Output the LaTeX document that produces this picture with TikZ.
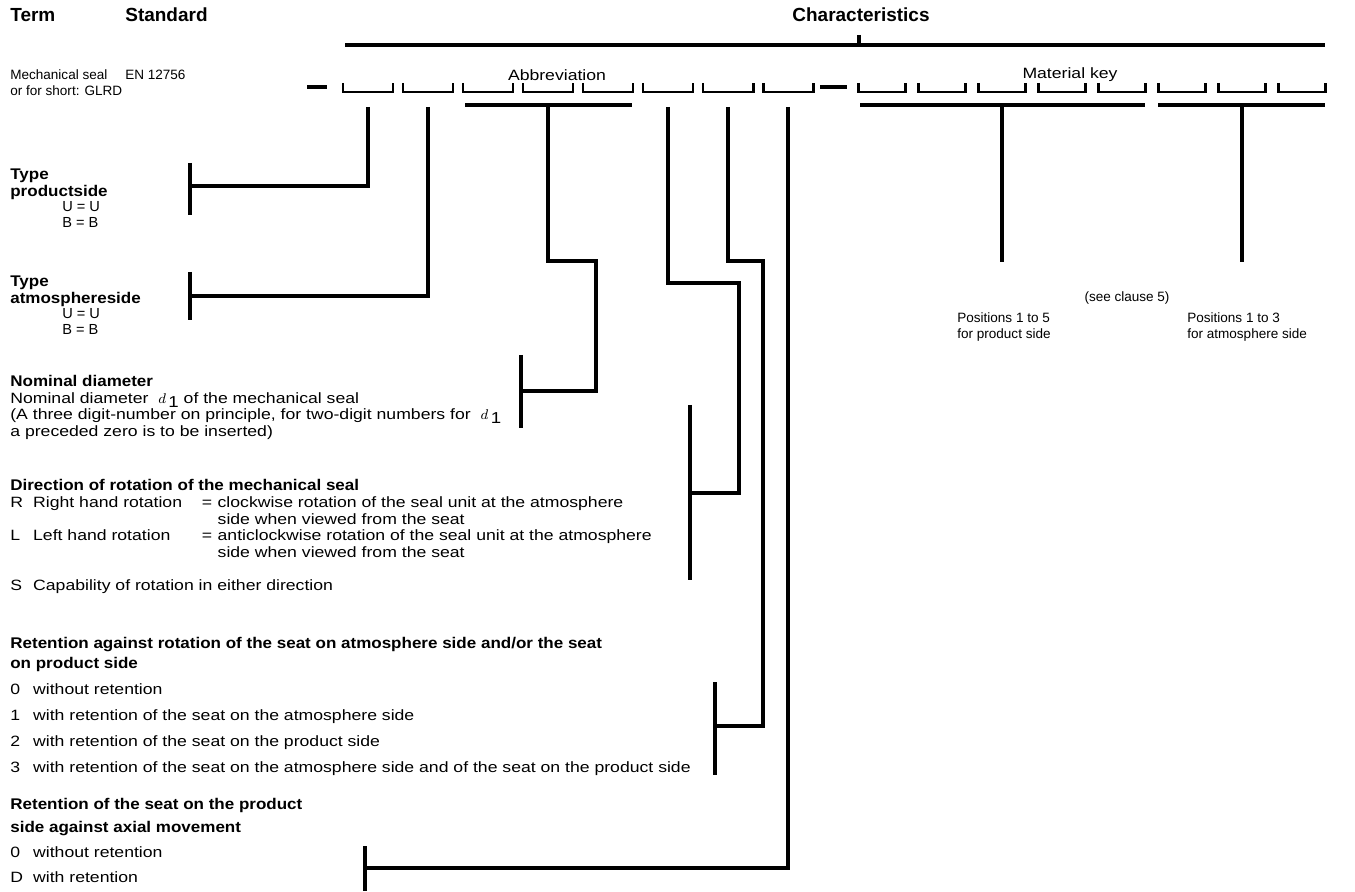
\documentclass[tikz,border=0pt]{standalone}
\usepackage{fontspec}
\setmainfont{Liberation Sans}
\newfontfamily\widefont[FakeStretch=1.18]{Liberation Sans}
\newfontfamily\widebold[FakeStretch=1.1]{Liberation Sans Bold}
\usetikzlibrary{positioning}

\begin{document}
\begin{tikzpicture}[x=0.2mm,y=-0.2mm]
\tikzset{bar/.style={line width=1.8pt},
  cup/.style={line width=1.7pt},
  hd/.style={font=\fontsize{10.8}{13}\selectfont\bfseries,inner sep=0pt},
  sm/.style={font=\fontsize{7.7}{9.2}\selectfont,inner sep=0pt,align=left},
  uv/.style={font=\fontsize{8.3}{9.4}\selectfont,inner sep=0pt,align=left},
  bx/.style={font=\widebold\fontsize{8.8}{9.4}\selectfont,inner sep=0pt,align=left},
  tx/.style={font=\widefont\fontsize{8.5}{9.4}\selectfont,inner sep=0pt,align=left}}
\useasboundingbox (0,0) rectangle (1355,892);

% header row
\node[hd,anchor=west](term) at (10,15) {Term};
\node[hd,anchor=west](std) at (125,15) {Standard};
\node[hd](chr) at (861,15) {Characteristics};
\draw[bar] (345,45) -- (1325,45);
\draw[bar] (859,35) -- (859,45);

\node[sm,anchor=north west](seal) at (10,69) {Mechanical seal\\or for short: GLRD};
\node[sm,anchor=west](en) at (125,75) {EN 12756};
\node[tx](abbr) at (557,75) {Abbreviation};
\node[tx](mkey) at (1070,75) {Material key};

% slots
\draw[bar] (307,87) -- (327,87);
\draw[bar] (820,87) -- (847,87);
\foreach \i in {1,...,8}{
  \draw[cup] ({283+60*\i},83) -- ++(0,9) -- ++(50,0) -- ++(0,-9);
  \draw[cup] ({798.5+60*\i},83) -- ++(0,9) -- ++(47,0) -- ++(0,-9);
  \coordinate (p\i) at ({308+60*\i},107);
}
\draw[bar] (465,105) -- (632,105);
\draw[bar] (860,105) -- (1145,105);
\draw[bar] (1158,105) -- (1325,105);
\coordinate (ab) at (548,105);
\coordinate (mk1) at (1002,105);
\coordinate (mk2) at (1242,105);

% brackets
\coordinate (b1) at (190,186);
\coordinate (b2) at (190,296);
\coordinate (b3) at (521,391);
\coordinate (b4) at (690,493);
\coordinate (b5) at (715,726);
\coordinate (b6) at (365,868);
\draw[bar] (190,163) -- (190,215);
\draw[bar] (190,272) -- (190,320);
\draw[bar] (521,355) -- (521,428);
\draw[bar] (690,405) -- (690,580);
\draw[bar] (715,682) -- (715,775);
\draw[bar] (365,846) -- (365,891);

% leads
\draw[bar] (p1) |- (b1);
\draw[bar] (p2) |- (b2);
\draw[bar] (ab) |- (596,261) |- (b3);
\draw[bar] (p6) |- (739,283) |- (b4);
\draw[bar] (p7) |- (763,261) |- (b5);
\draw[bar] (p8) |- (b6);
\draw[bar] (mk1) -- ++(0,157);
\draw[bar] (mk2) -- ++(0,157);

% left column
\node[bx,anchor=north west](tp) at (10,169) {Type\\productside};
\node[uv,anchor=north west](tpv) at (62,201) {U = U\\B = B};
\node[bx,anchor=north west](ta) at (10,276) {Type\\atmosphereside};
\node[uv,anchor=north west](tav) at (62,308) {U = U\\B = B};
\node[bx,anchor=north west](nd) at (10,375) {Nominal diameter};
\node[tx,anchor=north west](ndt) at (10,392) {Nominal diameter \ $d$\,\raisebox{-0.5ex}{\small 1} of the mechanical seal\\
  (A three digit-number on principle, for two-digit numbers for \ $d$\,\raisebox{-0.5ex}{\small 1}\\
  a preceded zero is to be inserted)};
\node[bx,anchor=north west](dir) at (10,479) {Direction of rotation of the mechanical seal};
\node[tx,anchor=north west](dirt) at (10,496) {\begin{tabular}{@{}p{13pt}@{}p{96pt}@{}p{9pt}@{}l@{}}
  R & Right hand rotation & = & clockwise rotation of the seal unit at the atmosphere\\
   & & & side when viewed from the seat\\
  L & Left hand rotation & = & anticlockwise rotation of the seal unit at the atmosphere\\
   & & & side when viewed from the seat\\
   & & & \\
  S & \multicolumn{3}{@{}l@{}}{Capability of rotation in either direction}
  \end{tabular}};
\node[bx,anchor=north west](ret) at (10,637) {Retention against rotation of the seat on atmosphere side and/or the seat\\[2pt]on product side};
\node[tx,anchor=north west](rett) at (10,683) {\begin{tabular}{@{}p{13pt}@{}l@{}}
  0 & without retention\\[5.4pt]
  1 & with retention of the seat on the atmosphere side\\[5.4pt]
  2 & with retention of the seat on the product side\\[5.4pt]
  3 & with retention of the seat on the atmosphere side and of the seat on the product side
  \end{tabular}};
\node[bx,anchor=north west](ax) at (10,798) {Retention of the seat on the product\\[3.7pt]side against axial movement};
\node[tx,anchor=north west](axt) at (10,846) {\begin{tabular}{@{}p{13pt}@{}l@{}}
  0 & without retention\\[4.8pt]
  D & with retention
  \end{tabular}};

% right column
\node[sm](cl) at (1127,298) {(see clause 5)};
\node[sm,anchor=north west](pos1) at (957,312) {Positions 1 to 5\\for product side};
\node[sm,anchor=north west](pos2) at (1187,312) {Positions 1 to 3\\for atmosphere side};
\end{tikzpicture}
\end{document}
